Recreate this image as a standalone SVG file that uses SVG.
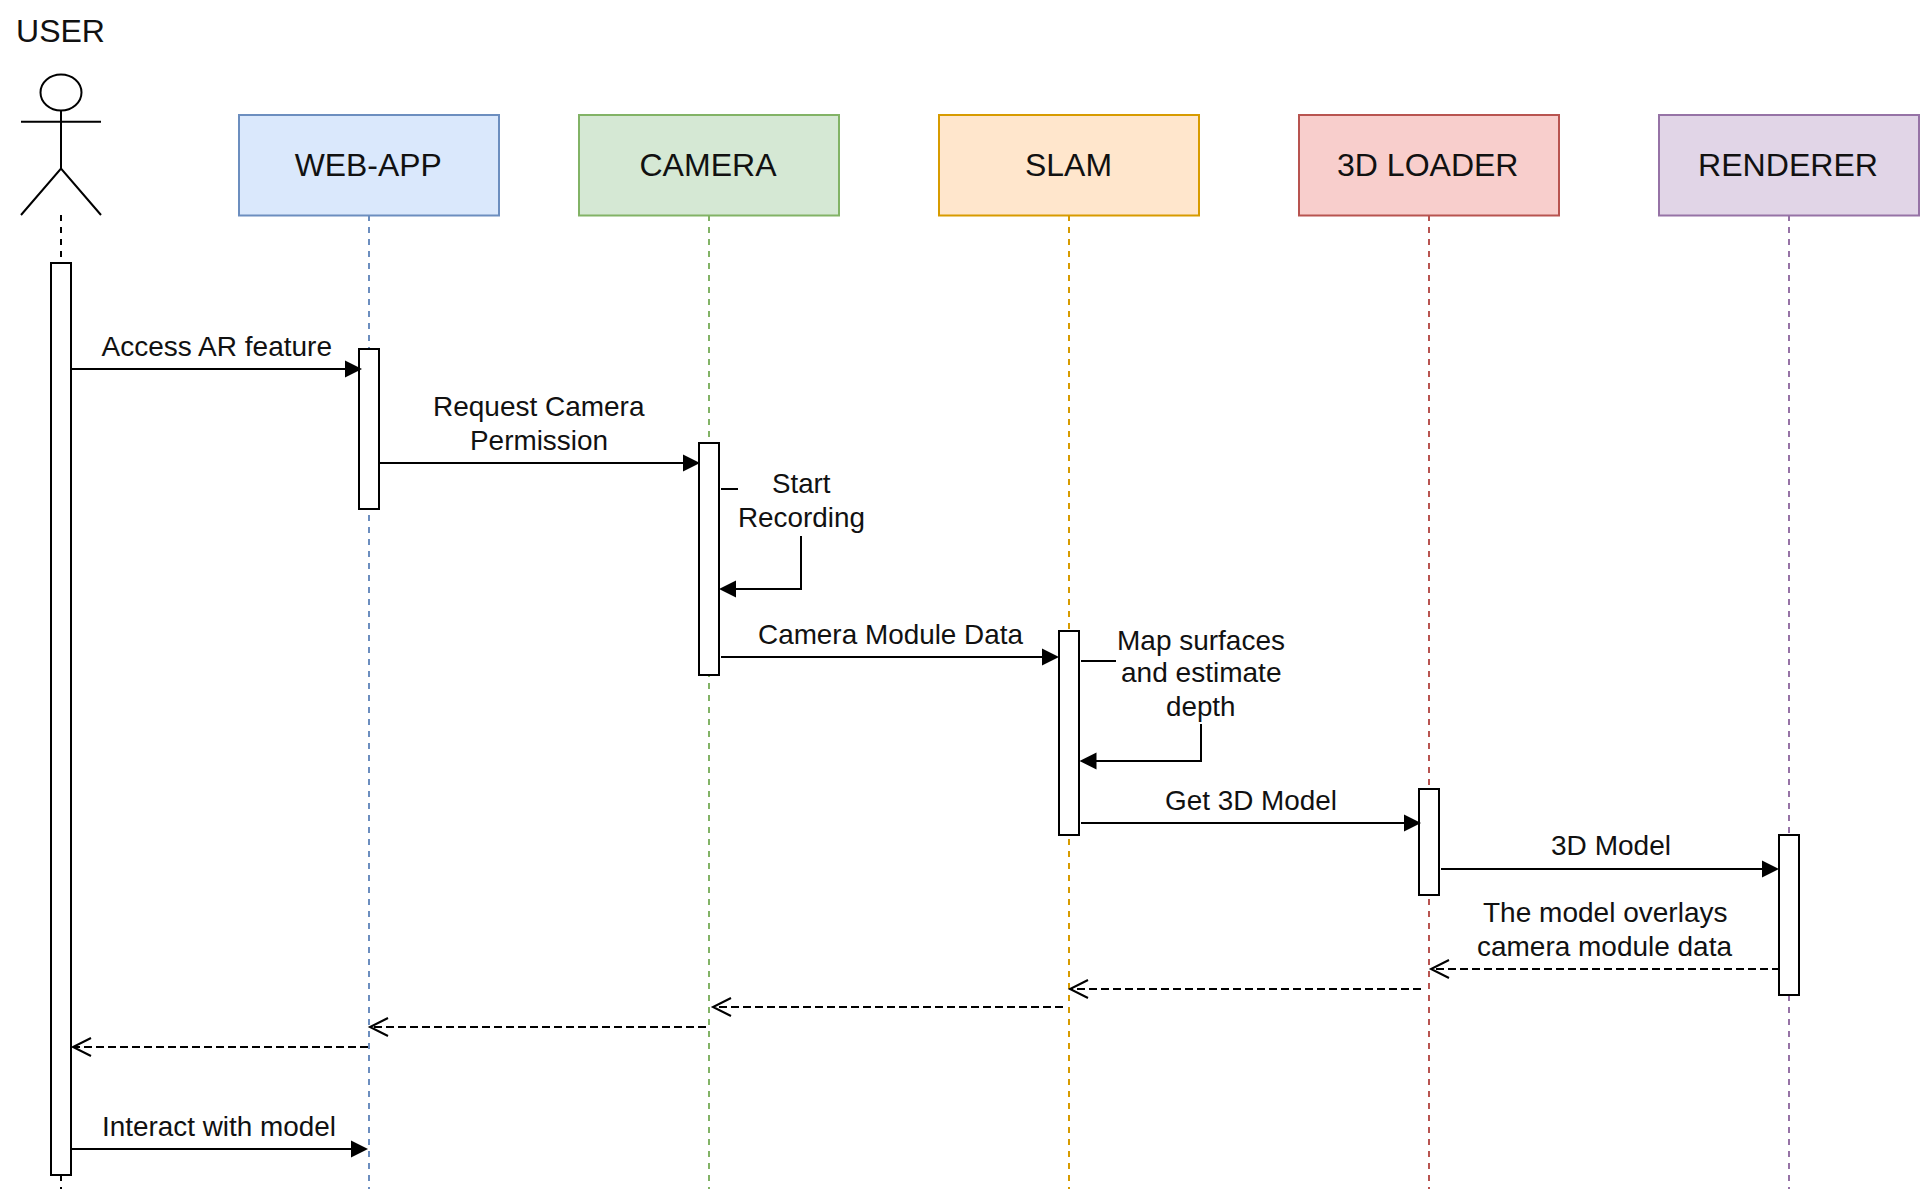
<svg xmlns="http://www.w3.org/2000/svg" width="1920" height="1190" viewBox="0 0 1920 1190">
<style>
text{font-family:"Liberation Sans",Arial,sans-serif;fill:#111;font-size:27.5px}
text.h{font-size:31.6px}
.life{fill:none;stroke-width:2;stroke-dasharray:6 6}
.act{fill:#fff;stroke:#000;stroke-width:2}
.box{stroke-width:2}
.c{fill:none;stroke:#000;stroke-width:2}
.d{stroke-dasharray:8 4}
.o{fill:none;stroke:#000;stroke-width:2}
</style>
<defs>
<polygon id="solid" points="0,0 -17,-8.500 -17,8.500" fill="#000"/>
</defs>
<rect width="1920" height="1190" fill="#fff"/>
<g id="user">
<text class="h" x="16" y="42" textLength="89" lengthAdjust="spacingAndGlyphs">USER</text>
<ellipse cx="61" cy="92.500" rx="20.500" ry="18" fill="#fff" stroke="#000" stroke-width="2"/>
<path d="M61 110.500V168.500M21 121.700H101M21 215L61 168.500L101 215" fill="none" stroke="#000" stroke-width="2"/>
<path d="M61 215V263M61 1175V1189" fill="none" stroke="#000" stroke-width="2" stroke-dasharray="6 6"/>
<rect class="act" x="51" y="263" width="20" height="912"/>
</g>
<g id="web-app">
<rect class="box" x="239" y="115" width="260" height="100.500" fill="#dae8fc" stroke="#6c8ebf"/>
<text class="h" x="294.700" y="175.500" textLength="147" lengthAdjust="spacingAndGlyphs">WEB-APP</text>
<path class="life" d="M369 215V1189" stroke="#6c8ebf"/>
<rect class="act" x="359" y="349" width="20" height="160"/>
</g>
<g id="camera">
<rect class="box" x="579" y="115" width="260" height="100.500" fill="#d5e8d4" stroke="#82b366"/>
<text class="h" x="639.500" y="175.500" textLength="137" lengthAdjust="spacingAndGlyphs">CAMERA</text>
<path class="life" d="M709 215V1189" stroke="#82b366"/>
<rect class="act" x="699" y="443" width="20" height="232"/>
</g>
<g id="slam">
<rect class="box" x="939" y="115" width="260" height="100.500" fill="#ffe6cc" stroke="#d79b00"/>
<text class="h" x="1025" y="175.500" textLength="87" lengthAdjust="spacingAndGlyphs">SLAM</text>
<path class="life" d="M1069 215V1189" stroke="#d79b00"/>
<rect class="act" x="1059" y="631" width="20" height="204"/>
</g>
<g id="loader">
<rect class="box" x="1299" y="115" width="260" height="100.500" fill="#f8cecc" stroke="#b85450"/>
<text class="h" x="1337" y="175.500" textLength="181.500" lengthAdjust="spacingAndGlyphs">3D LOADER</text>
<path class="life" d="M1429 215V1189" stroke="#b85450"/>
<rect class="act" x="1419" y="789" width="20" height="106"/>
</g>
<g id="renderer">
<rect class="box" x="1659" y="115" width="260" height="100.500" fill="#e1d5e7" stroke="#9673a6"/>
<text class="h" x="1698" y="175.500" textLength="180" lengthAdjust="spacingAndGlyphs">RENDERER</text>
<path class="life" d="M1789 215V1189" stroke="#9673a6"/>
<rect class="act" x="1779" y="835" width="20" height="160"/>
</g>
<g id="connectors">
<path class="c" d="M71 369H346"/><use href="#solid" x="362" y="369"/>
<path class="c" d="M379 463H684"/><use href="#solid" x="700" y="463"/>
<path class="c" d="M721 489H738M801 536V589H735"/><use href="#solid" transform="translate(719 589) scale(-1 1)"/>
<path class="c" d="M721 657H1043"/><use href="#solid" x="1059" y="657"/>
<path class="c" d="M1081 661H1116M1201 724V761H1095"/><use href="#solid" transform="translate(1079.500 761) scale(-1 1)"/>
<path class="c" d="M1081 823H1405"/><use href="#solid" x="1421" y="823"/>
<path class="c" d="M1441 869H1763"/><use href="#solid" x="1779" y="869"/>
<path class="c d" d="M1780 969H1432"/><path class="o" d="M1449 960L1431 969L1449 978"/>
<path class="c d" d="M1421 989H1071"/><path class="o" d="M1088 980L1070 989L1088 998"/>
<path class="c d" d="M1063 1007H714"/><path class="o" d="M731 998L713 1007L731 1016"/>
<path class="c d" d="M706 1027H371"/><path class="o" d="M388 1018L370 1027L388 1036"/>
<path class="c d" d="M368 1047H74"/><path class="o" d="M91 1038L73 1047L91 1056"/>
<path class="c" d="M71 1149H352"/><use href="#solid" x="368" y="1149"/>
<text x="101.500" y="356" textLength="230.500" lengthAdjust="spacingAndGlyphs">Access AR feature</text>
<text x="433" y="416.300" textLength="211.500" lengthAdjust="spacingAndGlyphs">Request Camera</text>
<text x="470" y="450.300" textLength="138" lengthAdjust="spacingAndGlyphs">Permission</text>
<text x="772" y="493.300" textLength="58.500" lengthAdjust="spacingAndGlyphs">Start</text>
<text x="738" y="527.300" textLength="127" lengthAdjust="spacingAndGlyphs">Recording</text>
<text x="758" y="643.500" textLength="265" lengthAdjust="spacingAndGlyphs">Camera Module Data</text>
<text x="1117" y="650" textLength="168" lengthAdjust="spacingAndGlyphs">Map surfaces</text>
<text x="1121" y="682" textLength="160.500" lengthAdjust="spacingAndGlyphs">and estimate</text>
<text x="1166" y="715.500" textLength="69.500" lengthAdjust="spacingAndGlyphs">depth</text>
<text x="1165" y="809.500" textLength="172" lengthAdjust="spacingAndGlyphs">Get 3D Model</text>
<text x="1551" y="855" textLength="120" lengthAdjust="spacingAndGlyphs">3D Model</text>
<text x="1483" y="921.700" textLength="244.500" lengthAdjust="spacingAndGlyphs">The model overlays</text>
<text x="1477" y="955.500" textLength="255" lengthAdjust="spacingAndGlyphs">camera module data</text>
<text x="102" y="1135.700" textLength="234" lengthAdjust="spacingAndGlyphs">Interact with model</text>
</g>
</svg>
